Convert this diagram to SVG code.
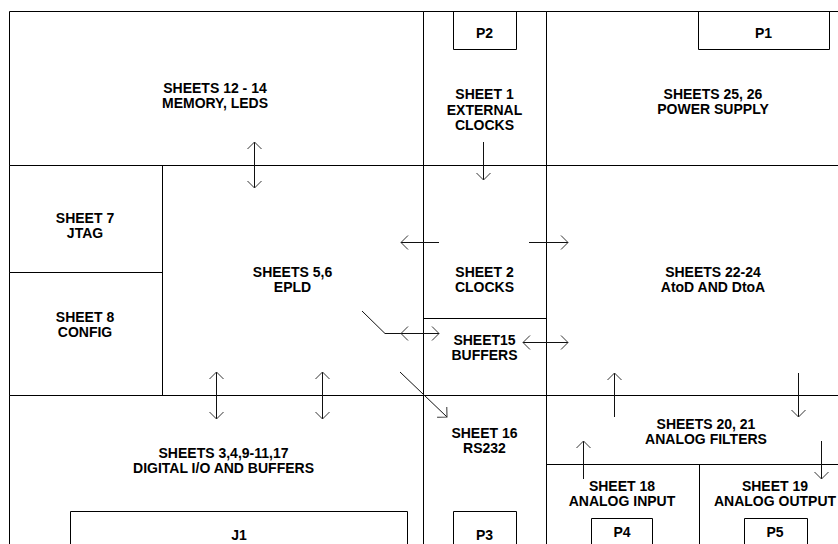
<svg xmlns="http://www.w3.org/2000/svg" width="838" height="544" viewBox="0 0 838 544">
<style>
.e{fill:none;stroke:#000;stroke-width:1}
.t{font-family:"Liberation Sans",Arial,sans-serif;font-weight:bold;font-size:14px;fill:#000;text-anchor:middle}
.c{fill:none;stroke:#111;stroke-width:1}
</style>
<defs>
<marker id="ah" viewBox="-9 -9 10 18" refX="0" refY="0" markerWidth="10" markerHeight="18" orient="auto-start-reverse" markerUnits="userSpaceOnUse">
<path d="M-7,-7 L0,0 L-7,7" fill="none" stroke="#333" stroke-width="1"/>
</marker>
</defs>
<rect width="838" height="544" fill="#fff"/>
<g id="memory"><path class="e" d="M9.5 165.5V11.5H423.5V165.5H9.5Z"/><text class="t" x="215" y="93">SHEETS 12 - 14</text><text class="t" x="215" y="108">MEMORY, LEDS</text></g>
<g id="ext-clocks"><path class="e" d="M423.5 11.5H546.5V165.5H423.5Z"/><text class="t" x="484.5" y="99">SHEET 1</text><text class="t" x="484.5" y="114.5">EXTERNAL</text><text class="t" x="484.5" y="130">CLOCKS</text></g>
<g id="p2"><path class="e" d="M453.5 11.5V49.5H516.5V11.5"/><text class="t" x="484.5" y="38">P2</text></g>
<g id="power"><path class="e" d="M546.5 165.5V11.5H838M546.5 165.5H838"/><text class="t" x="713" y="99">SHEETS 25, 26</text><text class="t" x="713" y="114">POWER SUPPLY</text></g>
<g id="p1"><path class="e" d="M698.5 11.5V49.5H829.5V11.5"/><text class="t" x="763.5" y="38">P1</text></g>
<g id="jtag"><path class="e" d="M9.5 165.5H162.5V272.5H9.5Z"/><text class="t" x="85" y="223">SHEET 7</text><text class="t" x="85" y="238">JTAG</text></g>
<g id="config"><path class="e" d="M9.5 272.5H162.5V395.5H9.5Z"/><text class="t" x="85" y="322">SHEET 8</text><text class="t" x="85" y="337">CONFIG</text></g>
<g id="epld"><path class="e" d="M162.5 165.5H423.5V395.5H162.5Z"/><text class="t" x="292.5" y="277">SHEETS 5,6</text><text class="t" x="292.5" y="292">EPLD</text></g>
<g id="clocks"><path class="e" d="M423.5 165.5H546.5V318.5H423.5Z"/><text class="t" x="484.5" y="277">SHEET 2</text><text class="t" x="484.5" y="292">CLOCKS</text></g>
<g id="buffers"><path class="e" d="M423.5 318.5H546.5V395.5H423.5Z"/><text class="t" x="484.5" y="345">SHEET15</text><text class="t" x="484.5" y="360">BUFFERS</text></g>
<g id="atod"><path class="e" d="M838 165.5H546.5V395.5H838"/><text class="t" x="713" y="277">SHEETS 22-24</text><text class="t" x="713" y="292">AtoD AND DtoA</text></g>
<g id="digital"><path class="e" d="M9.5 544V395.5H423.5V544"/><text class="t" x="223.5" y="458">SHEETS 3,4,9-11,17</text><text class="t" x="223.5" y="473">DIGITAL I/O AND BUFFERS</text></g>
<g id="j1"><path class="e" d="M70.5 544V511.5H407.5V544"/><text class="t" x="239" y="540">J1</text></g>
<g id="rs232"><path class="e" d="M423.5 544V395.5H546.5V544"/><text class="t" x="484.5" y="438">SHEET 16</text><text class="t" x="484.5" y="453">RS232</text></g>
<g id="p3"><path class="e" d="M453.5 544V511.5H516.5V544"/><text class="t" x="484.5" y="540">P3</text></g>
<g id="filters"><path class="e" d="M838 395.5H546.5V464.5H838"/><text class="t" x="706" y="429">SHEETS 20, 21</text><text class="t" x="706" y="444">ANALOG FILTERS</text></g>
<g id="analog-in"><path class="e" d="M546.5 544V464.5H699.5V544"/><text class="t" x="622" y="491">SHEET 18</text><text class="t" x="622" y="506">ANALOG INPUT</text></g>
<g id="p4"><path class="e" d="M591.5 544V518.5H652.5V544"/><text class="t" x="622" y="537">P4</text></g>
<g id="analog-out"><path class="e" d="M699.5 464.5H838"/><text class="t" x="775" y="491">SHEET 19</text><text class="t" x="775" y="506">ANALOG OUTPUT</text></g>
<g id="p5"><path class="e" d="M744.5 544V518.5H807.5V544"/><text class="t" x="775" y="537">P5</text></g>
<g id="connectors">
<path class="c" d="M254.5 142V188" marker-start="url(#ah)" marker-end="url(#ah)"/>
<path class="c" d="M483.5 142V180" marker-end="url(#ah)"/>
<path class="c" d="M439 242.5H401" marker-end="url(#ah)"/>
<path class="c" d="M529 242.5H568" marker-end="url(#ah)"/>
<path class="c" d="M362 311L385 333.5H401"/>
<path class="c" d="M439 333.5H401" marker-start="url(#ah)" marker-end="url(#ah)"/>
<path class="c" d="M523 342.5H568" marker-start="url(#ah)" marker-end="url(#ah)"/>
<path class="c" d="M400 372L447 417" marker-end="url(#ah)"/>
<path class="c" d="M216.5 372V419" marker-start="url(#ah)" marker-end="url(#ah)"/>
<path class="c" d="M322.5 372V419" marker-start="url(#ah)" marker-end="url(#ah)"/>
<path class="c" d="M614.5 417V373" marker-end="url(#ah)"/>
<path class="c" d="M798.5 373V417" marker-end="url(#ah)"/>
<path class="c" d="M583.5 479V441" marker-end="url(#ah)"/>
<path class="c" d="M821.5 441V479" marker-end="url(#ah)"/>
</g>
</svg>
